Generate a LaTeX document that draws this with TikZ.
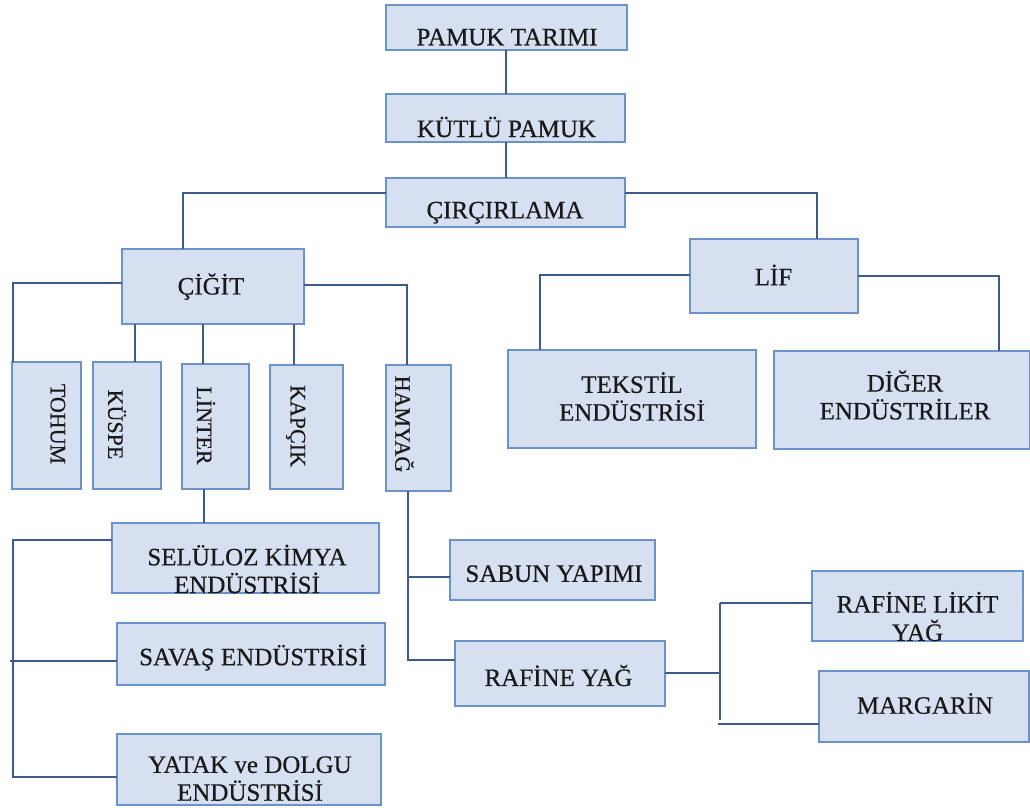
\documentclass[tikz,border=0pt]{standalone}
\usepackage{fontspec}
\setmainfont{Liberation Serif}
\newfontface\heavy{Liberation Serif}[FakeBold=0.45]
\definecolor{boxfill}{RGB}{214,224,240}
\definecolor{boxline}{RGB}{108,146,202}
\definecolor{conline}{RGB}{62,92,138}
\newcommand{\tl}[1]{\begin{tabular}{@{}c@{}}#1\end{tabular}}
\newcommand{\bx}[5]{\node[box, minimum width={#4-#2}, minimum height={#5-#3}] (#1) at ({(#2+#4)/2},{(#3+#5)/2}) {};}
\tikzset{
  box/.style={draw=boxline, fill=boxfill, line width=1.8pt, inner sep=0pt, outer sep=0pt, rectangle},
  txt/.style={inner sep=0pt, text=black!90, font=\heavy\fontsize{25}{24}\selectfont},
  vtxt/.style={inner sep=0pt, text=black!90, rotate=-90, font=\heavy\fontsize{22}{24}\selectfont},
  conn/.style={draw=conline, line width=1.7pt}
}
\begin{document}
\begin{tikzpicture}[x=1pt,y=-1pt]
\useasboundingbox (0,0) rectangle (1030,807);
% boxes
\bx{pamuk}{386}{5}{627}{50}
\bx{kutlu}{386}{94}{625}{142}
\bx{circ}{386}{178}{625}{227}
\bx{cigit}{122}{249}{304}{324}
\bx{lif}{690}{239}{858}{313}
\bx{tek}{508}{350}{756}{448}
\bx{dig}{774}{351}{1030}{449}
\bx{tohum}{12}{362}{81}{489}
\bx{kuspe}{93}{362}{161}{489}
\bx{linter}{182}{364}{249}{489}
\bx{kapcik}{270}{365}{343}{489}
\bx{hamyag}{386}{365}{451}{491}
\bx{sel}{112}{523}{379}{593}
\bx{sav}{117}{623}{385}{685}
\bx{yat}{117}{734}{381}{805}
\bx{sab}{450}{540}{655}{600}
\bx{raf}{455}{641}{665}{706}
\bx{likit}{812}{571}{1023}{641}
\bx{marg}{819}{671}{1029}{742}
% texts
\node[txt] (t-pamuk) at (507,40.5) {\tl{PAMUK TARIMI}};
\node[txt] (t-kutlu) at (506.5,130.5) {\tl{KÜTLÜ PAMUK}};
\node[txt] (t-circ) at (505,213.5) {\tl{ÇIRÇIRLAMA}};
\node[txt] (t-cigit) at (211,287.5) {\tl{ÇİĞİT}};
\node[txt] (t-lif) at (773.5,278.5) {\tl{LİF}};
\node[txt] (t-tek) at (632,400) {\tl{TEKSTİL\\ENDÜSTRİSİ}};
\node[txt] (t-dig) at (905,398.5) {\tl{DİĞER\\ENDÜSTRİLER}};
\node[txt] (t-sel) at (247,572.5) {\tl{SELÜLOZ KİMYA\\ENDÜSTRİSİ}};
\node[txt] (t-sav) at (253,658.5) {\tl{SAVAŞ ENDÜSTRİSİ}};
\node[txt] (t-yat) at (250,782) {\tl{YATAK ve DOLGU\\ENDÜSTRİSİ}};
\node[txt] (t-sab) at (554,577) {\tl{SABUN YAPIMI}};
\node[txt] (t-raf) at (558.5,679) {\tl{RAFİNE YAĞ}};
\node[txt] (t-likit) at (917.5,620) {\tl{RAFİNE LİKİT\\YAĞ}};
\node[txt] (t-marg) at (925,707) {\tl{MARGARİN}};
\node[vtxt] (t-tohum) at (55.5,424) {\tl{TOHUM}};
\node[vtxt] (t-kuspe) at (113.5,424.5) {\tl{KÜSPE}};
\node[vtxt] (t-linter) at (202.5,425.5) {\tl{LİNTER}};
\node[vtxt] (t-kapcik) at (295.5,426) {\tl{KAPÇIK}};
\node[vtxt] (t-hamyag) at (401,424) {\tl{HAMYAĞ}};
% connectors
\draw[conn] (pamuk.south -| 506,0) -- (kutlu.north -| 506,0);
\draw[conn] (kutlu.south -| 506,0) -- (circ.north -| 506,0);
\draw[conn] (circ.west |- 0,193) -| (cigit.north -| 183,0);
\draw[conn] (circ.east |- 0,193) -| (lif.north -| 817,0);
\draw[conn] (cigit.west |- 0,283) -| (tohum.north -| 13,0);
\draw[conn] (cigit.south -| 135,0) -- (kuspe.north -| 135,0);
\draw[conn] (cigit.south -| 203,0) -- (linter.north -| 203,0);
\draw[conn] (cigit.south -| 294,0) -- (kapcik.north -| 294,0);
\draw[conn] (cigit.east |- 0,285) -| (hamyag.north -| 407,0);
\draw[conn] (lif.west |- 0,275) -| (tek.north -| 540,0);
\draw[conn] (lif.east |- 0,276) -| (dig.north -| 999,0);
\draw[conn] (linter.south -| 204,0) -- (sel.north -| 204,0);
\coordinate (bt) at (13,540);
\coordinate (bb) at (13,777);
\coordinate (bm) at (10,661);
\draw[conn] (sel.west |- bt) -- (bt) -- (bb) -- (yat.west |- bb);
\draw[conn] (bm) -- (sav.west |- bm);
\coordinate (hb) at (408,660);
\coordinate (hs) at (408,577);
\draw[conn] (hamyag.south -| hb) -- (hb) -- (raf.west |- hb);
\draw[conn] (hs) -- (sab.west |- hs);
\coordinate (rj) at (720,673);
\coordinate (rt) at (720,603);
\coordinate (rb) at (720,720);
\coordinate (rm) at (718,724);
\draw[conn] (raf.east |- rj) -- (rj);
\draw[conn] (rt) -- (rb);
\draw[conn] (rt) -- (likit.west |- rt);
\draw[conn] (rm) -- (marg.west |- rm);
\end{tikzpicture}
\end{document}
